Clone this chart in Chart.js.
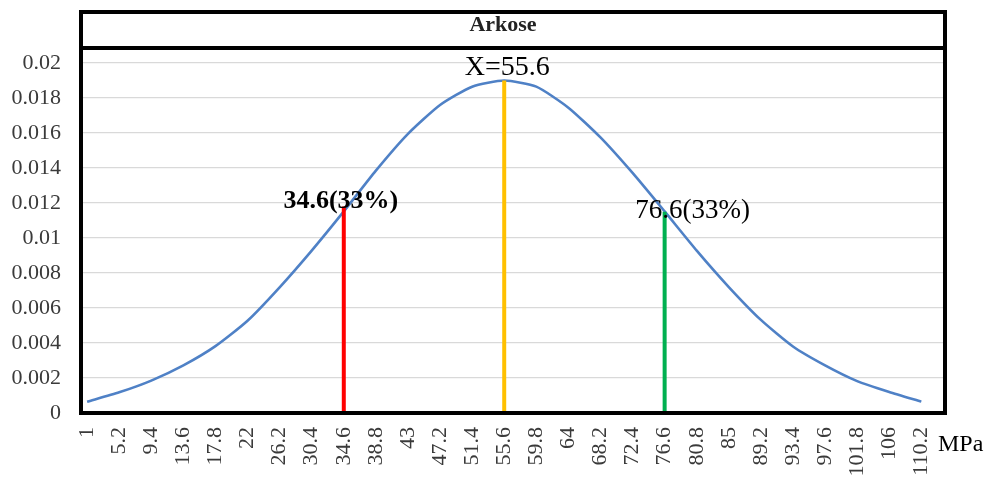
<!DOCTYPE html>
<html>
<head>
<meta charset="utf-8">
<script src="https://cdn.jsdelivr.net/npm/chart.js@4/dist/chart.umd.min.js"></script>
<style>
  html, body { margin: 0; padding: 0; background: #ffffff; }
  #wrap { width: 991px; height: 484px; }
</style>
</head>
<body>
<div id="wrap"><canvas id="c" width="991" height="484"></canvas></div>
<script>
// ---- data ----
const categories = [1, 5.2, 9.4, 13.6, 17.8, 22, 26.2, 30.4, 34.6, 38.8, 43, 47.2, 51.4, 55.6,
                    59.8, 64, 68.2, 72.4, 76.6, 80.8, 85, 89.2, 93.4, 97.6, 101.8, 106, 110.2];
const xTickLabels = ['1','5.2','9.4','13.6','17.8','22','26.2','30.4','34.6','38.8','43','47.2','51.4','55.6',
                     '59.8','64','68.2','72.4','76.6','80.8','85','89.2','93.4','97.6','101.8','106','110.2'];
const density = [0.00065, 0.00118, 0.00185, 0.00272, 0.00382, 0.00527, 0.00718, 0.00928, 0.01152,
                 0.01385, 0.01595, 0.01760, 0.01865, 0.01900, 0.01865, 0.01745, 0.01575, 0.01372,
                 0.01152, 0.00928, 0.00720, 0.00532, 0.00380, 0.00272, 0.00182, 0.00120, 0.00065];
const yTicks = [0, 0.002, 0.004, 0.006, 0.008, 0.01, 0.012, 0.014, 0.016, 0.018, 0.02];
const yTickLabels = ['0','0.002','0.004','0.006','0.008','0.01','0.012','0.014','0.016','0.018','0.02'];
const markerX = [34.6, 55.6, 76.6];
const markerTop = [0.0118, 0.019, 0.0115];
const markerLabels = ['34.6(33%)', 'X=55.6', '76.6(33%)'];
const markerColors = ['#FF0000', '#FFC000', '#00B050'];
const chartTitle = 'Arkose';
const xUnit = 'MPa';

const SERIF = '"Liberation Serif", "Times New Roman", serif';

const datasets = [{
  label: 'curve',
  data: categories.map((x, i) => ({ x: x, y: density[i] })),
  borderColor: '#4F81C6',
  borderWidth: 2.6,
  pointRadius: 0,
  showLine: true,
  tension: 0.2,
  order: 1
}];
markerX.forEach((mx, i) => {
  datasets.push({
    label: markerLabels[i],
    data: [{ x: mx, y: 0 }, { x: mx, y: markerTop[i] }],
    borderColor: markerColors[i],
    borderWidth: 4,
    pointRadius: 0,
    showLine: true,
    order: 0
  });
});

const decor = {
  id: 'decor',
  beforeDraw(chart) {
    const ctx = chart.ctx;
    ctx.save();
    ctx.fillStyle = '#ffffff';
    ctx.fillRect(0, 0, chart.width, chart.height);
    ctx.restore();
  },
  afterDatasetsDraw(chart) {
    const ctx = chart.ctx;
    const xs = chart.scales.x, ys = chart.scales.y;
    ctx.save();
    ctx.fillStyle = '#000000';
    ctx.textAlign = 'center';
    ctx.textBaseline = 'alphabetic';
    const fonts = ['bold 26px ' + SERIF, '28px ' + SERIF, '27px ' + SERIF];
    const dx = [-3, 3, 28];
    const dy = [1, -6, 6];
    markerX.forEach((mx, i) => {
      const px = xs.getPixelForValue(mx);
      const py = ys.getPixelForValue(markerTop[i]);
      ctx.font = fonts[i];
      ctx.fillText(markerLabels[i], px + dx[i], py + dy[i]);
    });
    ctx.restore();
  },
  afterDraw(chart) {
    const ctx = chart.ctx;
    const a = chart.chartArea;
    ctx.save();
    ctx.strokeStyle = '#000000';
    ctx.lineWidth = 4;
    ctx.strokeRect(a.left, 12, a.right - a.left, a.bottom - 12);
    ctx.beginPath();
    ctx.moveTo(a.left, a.top);
    ctx.lineTo(a.right, a.top);
    ctx.stroke();
    ctx.fillStyle = '#222222';
    ctx.font = 'bold 22px ' + SERIF;
    ctx.textAlign = 'center';
    ctx.textBaseline = 'alphabetic';
    ctx.fillText(chartTitle, (a.left + a.right) / 2 - 10, 31);
    ctx.fillStyle = '#000000';
    ctx.font = '24px ' + SERIF;
    ctx.textAlign = 'left';
    ctx.textBaseline = 'middle';
    ctx.fillText(xUnit, a.right - 7, 445);
    ctx.restore();
  }
};

new Chart(document.getElementById('c'), {
  type: 'scatter',
  data: { datasets: datasets },
  plugins: [decor],
  options: {
    responsive: false,
    animation: false,
    layout: { padding: { top: 48, right: 46, bottom: 0, left: 0 } },
    plugins: {
      legend: { display: false },
      tooltip: { enabled: false },
      title: { display: false }
    },
    scales: {
      x: {
        type: 'linear',
        min: 0.2,
        max: 113.3,
        afterBuildTicks(scale) { scale.ticks = categories.map(v => ({ value: v })); },
        afterFit(scale) { scale.height = 71; },
        grid: { display: false, drawTicks: false },
        border: { display: false },
        ticks: {
          autoSkip: false,
          minRotation: 90,
          maxRotation: 90,
          padding: 14,
          color: '#3a3a3a',
          font: { family: SERIF, size: 22 },
          callback: (v, i) => xTickLabels[i]
        }
      },
      y: {
        min: 0,
        max: 0.02086,
        afterBuildTicks(scale) { scale.ticks = yTicks.map(v => ({ value: v })); },
        afterFit(scale) { scale.width = 81; },
        grid: { color: '#D9D9D9', lineWidth: 1.3, drawTicks: false },
        border: { display: false },
        ticks: {
          padding: 20,
          color: '#3a3a3a',
          font: { family: SERIF, size: 22 },
          callback: (v, i) => yTickLabels[i]
        }
      }
    }
  }
});
</script>
</body>
</html>
